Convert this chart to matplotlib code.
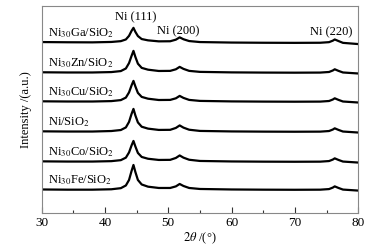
import matplotlib
matplotlib.use("Agg")
import matplotlib.pyplot as plt
from matplotlib.ticker import MultipleLocator

plt.rcParams['font.family'] = ['Liberation Serif', 'DejaVu Serif']
plt.rcParams['mathtext.fontset'] = 'stix'

two_theta = [30, 34, 38, 41, 42.5, 43.3, 43.8, 44.2, 44.5, 44.8, 45.2, 45.8, 46.8, 48.5,
             50.3, 51.2, 51.8, 52.4, 53.3, 55, 60, 65, 70, 74, 75.4, 76.0, 76.3, 76.9, 77.6, 80]

samples = ["Ni$_{30}$Fe/SiO$_2$", "Ni$_{30}$Co/SiO$_2$", "Ni/SiO$_2$",
           "Ni$_{30}$Cu/SiO$_2$", "Ni$_{30}$Zn/SiO$_2$", "Ni$_{30}$Ga/SiO$_2$"]

fe = [0.5, 0.3, 0.3, 0.7, 1.8, 4.5, 10.0, 19.0, 25.0, 18.0, 10.0, 5.5, 3.3, 2.0,
      2.0, 3.6, 6.0, 4.0, 2.0, 1.0, 0.5, 0.3, 0.2, 0.3, 0.9, 2.4, 3.6, 2.0, 0.4, -0.6]
co = [0.6, 0.4, 0.4, 0.8, 1.8, 4.3, 9.5, 16.5, 21.0, 15.5, 9.0, 5.0, 3.2, 2.0,
      2.1, 4.0, 6.5, 4.3, 2.2, 1.0, 0.5, 0.3, 0.2, 0.3, 0.9, 2.4, 3.6, 2.0, 0.4, -0.6]
ni = [0.6, 0.4, 0.4, 0.9, 1.9, 4.5, 10.0, 18.0, 23.0, 16.5, 9.5, 5.2, 3.3, 2.0,
      2.1, 4.0, 6.5, 4.3, 2.2, 1.0, 0.5, 0.3, 0.2, 0.3, 0.9, 2.4, 3.6, 2.0, 0.4, -0.6]
cu = [0.6, 0.4, 0.4, 0.8, 1.8, 4.3, 9.5, 16.5, 21.0, 15.5, 9.0, 5.0, 3.2, 1.9,
      2.0, 3.6, 6.0, 4.0, 2.0, 1.0, 0.5, 0.3, 0.2, 0.3, 0.9, 2.4, 3.6, 2.0, 0.4, -0.6]
zn = [0.6, 0.4, 0.4, 0.8, 1.8, 4.4, 9.8, 17.0, 22.0, 16.0, 9.2, 5.0, 3.2, 1.9,
      2.0, 3.6, 6.0, 4.0, 2.0, 1.0, 0.5, 0.3, 0.2, 0.3, 0.9, 2.4, 3.6, 2.0, 0.4, -0.6]
ga = [0.8, 0.6, 0.5, 0.9, 1.7, 3.4, 7.0, 12.0, 15.0, 11.0, 6.8, 3.8, 2.5, 1.5,
      1.6, 3.2, 5.5, 3.6, 1.8, 0.8, 0.3, 0.1, 0.0, 0.1, 0.7, 2.2, 3.4, 1.8, 0.0, -1.2]

series = [fe, co, ni, cu, zn, ga]
offsets = [23, 51, 81, 111, 140, 170]

peak_labels = ["Ni (111)", "Ni (200)", "Ni (220)"]
peak_pos = [44.8, 51.6, 75.7]
peak_y = [196, 182, 181]

fig = plt.figure(figsize=(3.79, 2.49), dpi=100)
ax = fig.add_axes([0.110, 0.1446, 0.835, 0.832])

for name, vals, off in zip(samples, series, offsets):
    ax.plot(two_theta, [v + off for v in vals], color='black', lw=1.6,
            solid_joinstyle='round')
    ax.text(31.0, off + 10, name, fontsize=9, ha='left', va='center')

for lab, px, py in zip(peak_labels, peak_pos, peak_y):
    ax.text(px, py, lab, fontsize=9, ha='center', va='center')

ax.set_xlim(30, 80)
ax.set_ylim(0, 207)
ax.set_yticks([])
ax.xaxis.set_major_locator(MultipleLocator(10))
ax.xaxis.set_minor_locator(MultipleLocator(5))
ax.tick_params(axis='x', which='major', direction='in', length=4, width=0.8,
               labelsize=9.5, pad=3, color='#333333')
ax.tick_params(axis='x', which='minor', direction='in', length=2, width=0.8,
               color='#333333')
for s in ax.spines.values():
    s.set_color('#888888')
    s.set_linewidth(0.8)

ax.set_xlabel(r"$2\theta$ /(°)", fontsize=9, labelpad=1)
ax.set_ylabel("Intensity /(a.u.)", fontsize=9, labelpad=7)

fig.savefig("out.png", dpi=100)
